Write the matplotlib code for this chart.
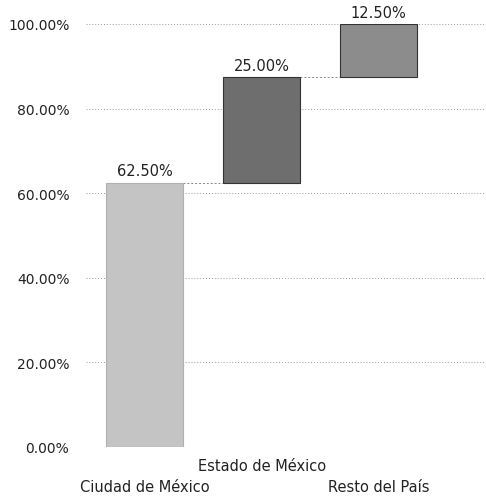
import numpy as np
import matplotlib.pyplot as plt

categories = ['Ciudad de México', 'Estado de México', 'Resto del País']
shares = [62.5, 25.0, 12.5]
yticks = [0, 20, 40, 60, 80, 100]

bottoms = np.concatenate([[0], np.cumsum(shares)[:-1]])
tops = bottoms + np.array(shares)
colors = ['#c4c4c4', '#6e6e6e', '#8c8c8c']
edges = ['#b0b0b0', '#333333', '#333333']
x = np.arange(len(categories))
w = 0.66

fig = plt.figure(figsize=(4.86, 5.02), dpi=100)
ax = fig.add_axes([0.177, 0.1076, 0.819, 0.8426])

ax.bar(x, shares, bottom=bottoms, width=w, color=colors, edgecolor=edges,
       linewidth=0.8, zorder=3)

for i in range(len(categories)):
    ax.text(x[i], tops[i] + 1.0, f'{shares[i]:.2f}%', ha='center', va='bottom',
            fontsize=10.5, color='#222222', zorder=4)
    if i < len(categories) - 1:
        ax.plot([x[i] + w / 2, x[i + 1] - w / 2], [tops[i], tops[i]],
                linestyle=(0, (2, 2)), color='#888888', linewidth=0.7, zorder=2)

ax.set_xlim(-0.5, 2.9)
ax.set_ylim(0, 100)
ax.set_yticks(yticks)
ax.set_yticklabels([f'{v:.2f}%' for v in yticks], fontsize=10, color='#222222')
ax.yaxis.grid(True, linestyle=(0, (1, 2)), color='#999999', linewidth=0.7, zorder=0)
ax.tick_params(axis='both', length=0, pad=12)
ax.set_xticks(x)
ax.set_xticklabels([])
for i, c in enumerate(categories):
    ypos = -4.3 if i % 2 else -9.3
    ax.text(x[i], ypos, c, ha='center', va='center', fontsize=10.5, color='#222222')
for s in ax.spines.values():
    s.set_visible(False)

fig.savefig('out.png', dpi=100)
